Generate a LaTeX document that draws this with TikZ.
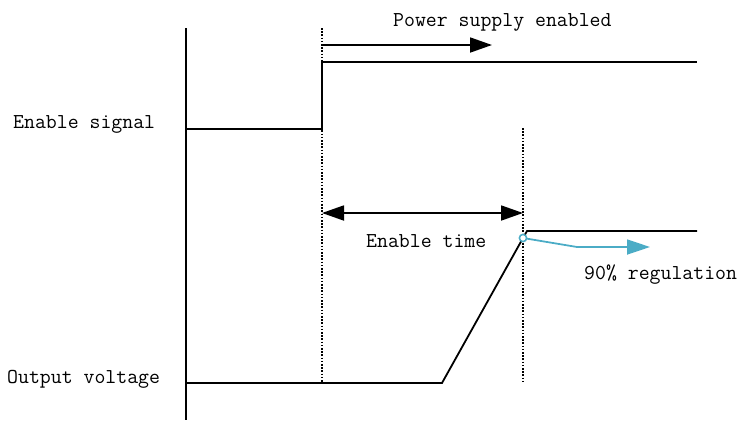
\documentclass[tikz,border=0pt]{standalone}
\usepackage{tikz}
\usetikzlibrary{arrows.meta}
\definecolor{regcyan}{RGB}{75,172,198}
\tikzset{lbl/.style={inner sep=0pt,anchor=base west,font=\fontsize{21.2}{24}\ttfamily},
  sig/.style={line width=1.8pt},
  mark line/.style={dash pattern=on 1.6pt off 1.6pt,line width=1.4pt},
  bigtip/.style={-{Triangle[length=22pt,width=15pt]},line width=1.8pt}}

\begin{document}
\begin{tikzpicture}[x=1pt,y=-1pt]
\useasboundingbox (0,0) rectangle (740,421);
\coordinate (axtop) at (186,28);  \coordinate (axbot) at (186,420);
\coordinate (t1top) at (322,28);  \coordinate (t1bot) at (322,383);
\coordinate (t2top) at (523,128); \coordinate (t2bot) at (523,383);
\node[lbl] (ensig) at (13,128) {Enable signal};
\node[lbl] (outv) at (7,383) {Output voltage};
\node[lbl] (psen) at (393,26) {Power supply enabled};
\node[lbl] (entime) at (366,247) {Enable time};
\node[lbl] (reg) at (584,279) {90\% regulation};
\draw[sig] (axtop) -- (axbot);
\draw[mark line] (t1top) -- (t1bot);
\draw[mark line] (t2top) -- (t2bot);
% enable signal
\draw[sig] (186,129) -- (322,129) -- (322,62) -- (697,62);
\draw[bigtip] (322,45) -- (492,45);
\draw[bigtip,{Triangle[length=22pt,width=15pt]}-{Triangle[length=22pt,width=15pt]}] (322,213) -- (523,213);
% output voltage
\coordinate (p90) at (523,238);
\draw[sig] (186,383) -- (442,383) -- (p90) -- (527,231) -- (697,231);
\draw[regcyan,line width=1.8pt,-{Triangle[length=23pt,width=15pt]}] (p90) -- (577,247) -- (650,247);
\draw[regcyan,line width=1.6pt,fill=white] (p90) circle (3.6pt);
\end{tikzpicture}
\end{document}
